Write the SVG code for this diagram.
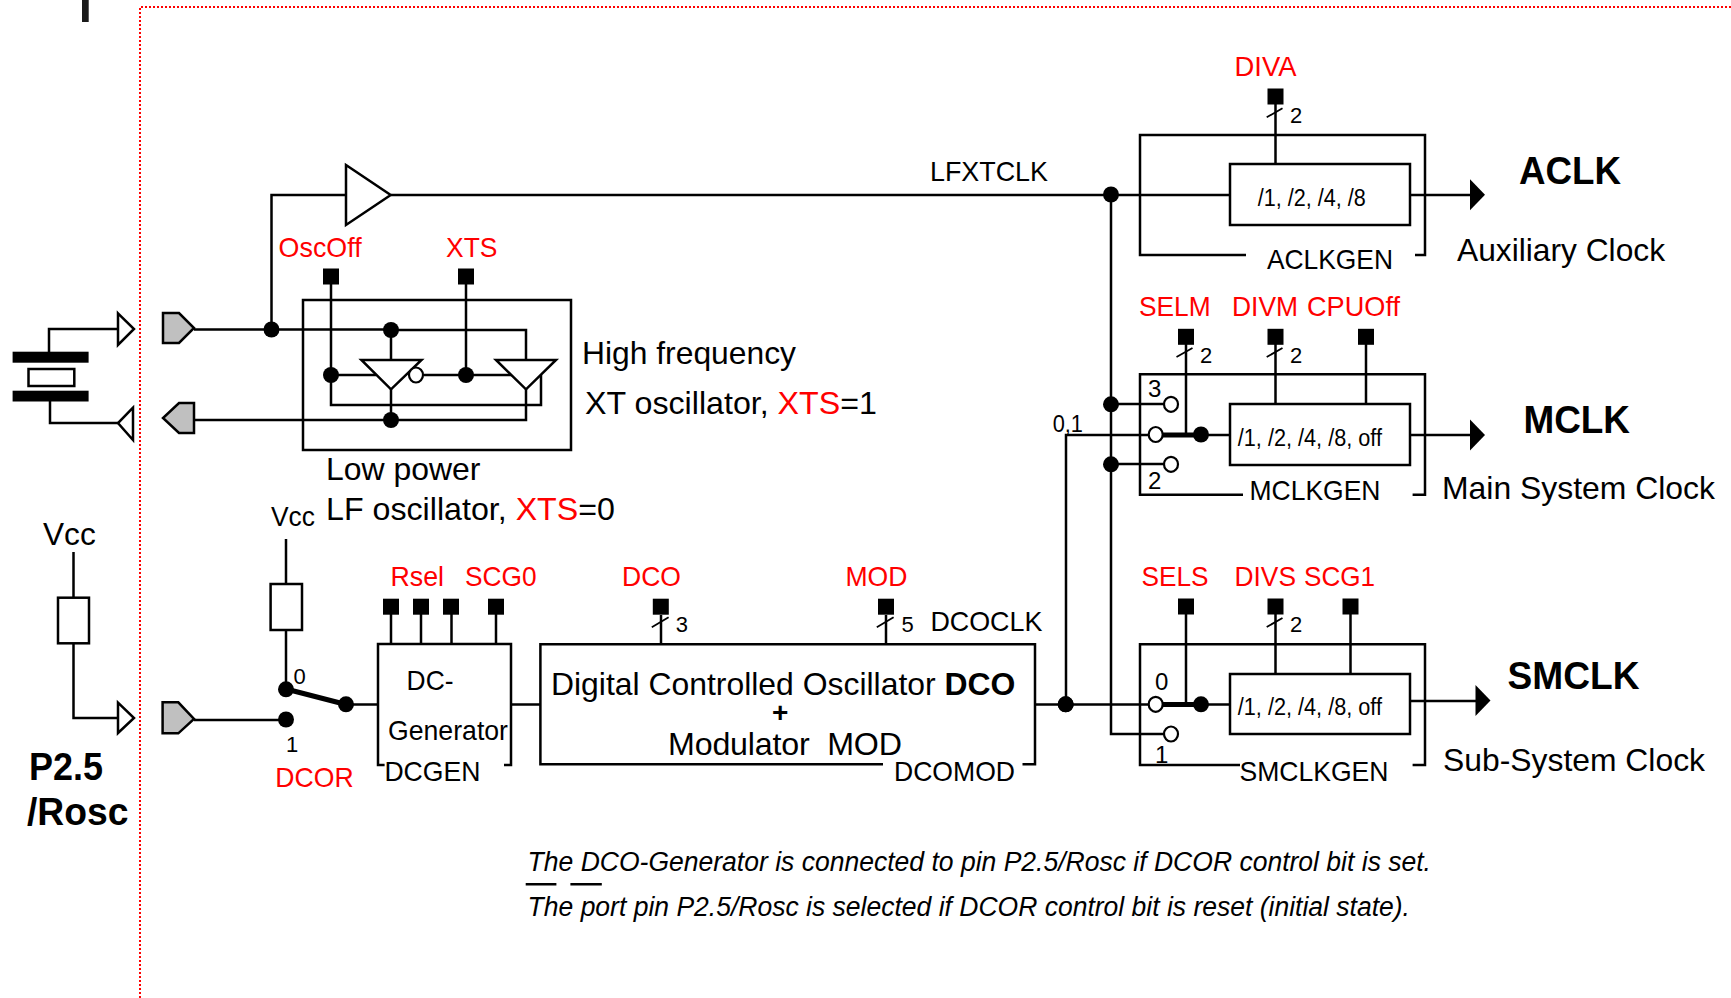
<svg xmlns="http://www.w3.org/2000/svg" width="1731" height="998" viewBox="0 0 1731 998">
<style>
text{font-family:"Liberation Sans",Arial,sans-serif;fill:#000;font-size:27.500px}
.r{fill:#f00}
.rt{fill:#f00}
.b{font-weight:bold;font-size:38px}
.l{font-size:32.200px}
.m{font-size:28px}
.s{font-size:22px}
.n{font-size:24px}
.d{font-size:23px}
.i{font-style:italic;font-size:27px}
.w{fill:none;stroke:#000;stroke-width:2.500}
.t{fill:none;stroke:#000;stroke-width:1.800}
.o{fill:none;stroke:#000;stroke-width:2.500}
.th{fill:none;stroke:#000;stroke-width:5}
.box{fill:#fff;stroke:#000;stroke-width:2.500}
.pad{fill:#c0c0c0;stroke:#000;stroke-width:2.500}
.pin{fill:#fff;stroke:#000;stroke-width:2.500}
.bub{fill:#fff;stroke:#000;stroke-width:2.200}
</style>
<defs>
<rect id="sq" x="-8" y="-8" width="16" height="16" fill="#000"/>
<ellipse id="dt" rx="8" ry="8" fill="#000"/>
<ellipse id="bb" rx="7" ry="7.500" class="bub"/>
<path id="ar" d="M0,-15.500L15,0L0,15.500Z" fill="#000"/>
</defs>
<rect width="1731" height="998" fill="#fff"/>
<g id="frame"><path d="M140,998V7H1731" fill="none" stroke="#f00" stroke-width="2" stroke-dasharray="2 2"/><rect x="82" y="0" width="6.700" height="22" fill="#1a1a1a"/></g>
<g id="connectors">
<path class="w" d="M194,329.500H271.500M271.500,329.500V195H346M391,195H1230M271.500,329.500H391M391,330H526V360M194,420H526V389M391,330V360M391,389V420"/>
<path class="w" d="M331,284V405H541V375M331,375H376M424,375H513M466,284V375"/>
<path class="w" d="M1111,195V734H1164M1111,404H1164M1111,464H1164M1066,704V435H1148M1035,704.500H1148M1201,435H1230M1201,704.500H1230M1410,195H1472M1410,435H1472M1410,701H1477"/>
<path class="w" d="M1275.500,104V164M1186,344V435M1275.500,344V404M1366,344V404M1186,614V704M1275.500,614V674M1350.500,614V674"/>
<path class="w" d="M391,614V644M421,614V644M451.500,614V644M496,614V644M661,615V644M886,615V644M511,704.500H540M346,704.500H378"/>
<path class="w" d="M73.500,552V598M73.500,643V718H118M286,539V584M286,630V689M194,720H286"/>
<path class="w" d="M49,352V329H118M50,401V423H118"/>
<path class="th" d="M1163,435H1201M1163,704.500H1201M286,689L346,704.500"/>
<path class="t" d="M1266.700,117.300L1282.500,108.300M1176.500,357L1192.500,348M1266.700,357L1282.500,348M1266.700,627L1282.500,618M651.800,627.300L668.600,617.300M876.800,627.300L893.600,617.300"/>
<path d="M525.700,884.300H556.400M570.400,884.300H601.800" class="o"/>
</g>
<g id="buffer"><path class="box" d="M346,165L390.700,195L346,225Z"/></g>
<g id="crystal"><rect x="12.600" y="351.700" width="76" height="11" fill="#000"/><rect x="28.500" y="369" width="45.800" height="17" class="box"/><rect x="12.600" y="390.700" width="76" height="10.800" fill="#000"/></g>
<g id="pin-xin"><path class="pin" d="M118,313.300L134,329L118,345Z"/></g>
<g id="pin-xout"><path class="pin" d="M133,407.700L118,423L133,440Z"/></g>
<g id="pad-xin"><path class="pad" d="M163,313H179L194,328L179,343H163Z"/></g>
<g id="pad-xout"><path class="pad" d="M194,403V433H179L163,418L179,403Z"/></g>
<g id="oscillator">
<path class="w" d="M303,300H571V450H303Z"/>
<path class="box" d="M361.400,360H421.500L391,389.300Z"/>
<path class="box" d="M496,360H556L526,389.300Z"/>
<use href="#bb" x="416" y="375"/>
<use href="#dt" x="331" y="375"/><use href="#dt" x="466" y="375"/><use href="#dt" x="391" y="330"/><use href="#dt" x="391" y="420"/><use href="#dt" x="271.500" y="329.500"/>
<use href="#sq" x="331" y="276.500"/><use href="#sq" x="466" y="276.500"/>
</g>
<g id="aclkgen">
<path class="w" d="M1246,255H1140V135H1425V255H1415"/>
<rect class="box" x="1230" y="164" width="180" height="61"/>
<use href="#sq" x="1275.500" y="96.500"/><use href="#dt" x="1111" y="194.500"/>
<use href="#ar" x="1470" y="194.700"/>
</g>
<g id="mclkgen">
<path class="w" d="M1243,494.700H1140V374.300H1425V494.700H1412.600"/>
<rect class="box" x="1230" y="404" width="180" height="61"/>
<use href="#sq" x="1186" y="336.800"/><use href="#sq" x="1275.500" y="336.800"/><use href="#sq" x="1366" y="336.800"/>
<use href="#dt" x="1111" y="404.300"/><use href="#dt" x="1111" y="464.300"/><use href="#dt" x="1201" y="434.500"/>
<use href="#bb" x="1171" y="404.300"/><use href="#bb" x="1171" y="464.300"/><use href="#bb" x="1155.700" y="434.500"/>
<use href="#ar" x="1470" y="435"/>
</g>
<g id="smclkgen">
<path class="w" d="M1240,765H1140V644.300H1425V765H1412.600"/>
<rect class="box" x="1230" y="674" width="180" height="60"/>
<use href="#sq" x="1186" y="606.500"/><use href="#sq" x="1275.500" y="606.500"/><use href="#sq" x="1350.500" y="606.500"/>
<use href="#dt" x="1065.700" y="704.300"/><use href="#dt" x="1201" y="704.300"/>
<use href="#bb" x="1155.700" y="704.300"/><use href="#bb" x="1171" y="734"/>
<use href="#ar" x="1475.500" y="700.500"/>
</g>
<g id="dcgen">
<path class="w" d="M384.600,765H378V644H511V765H504"/>
<use href="#sq" x="391" y="606.700"/><use href="#sq" x="421" y="606.700"/><use href="#sq" x="451" y="606.700"/><use href="#sq" x="496" y="606.700"/>
</g>
<g id="dcomod">
<path class="w" d="M883,764.300H540.400V644.300H1035V764.300H1022.500"/>
<use href="#sq" x="660.800" y="606.700"/><use href="#sq" x="886" y="606.700"/>
</g>
<g id="dcor-switch">
<use href="#dt" x="286" y="689.300"/><use href="#dt" x="286" y="719.500"/><use href="#dt" x="346" y="704.300"/><use href="#dt" x="1065.700" y="704.300"/>
<rect x="270.600" y="584" width="31.400" height="46" class="box"/>
</g>
<g id="ext-res"><rect x="58" y="597.700" width="31" height="45.600" class="box"/><path class="pin" d="M118,702.700L134,718L118,733Z"/></g>
<g id="pad-rosc"><path class="pad" d="M162.600,702.300H178.300L194,719L178.300,733.300H162.600Z"/></g>
<g id="labels">
<text x="278.600" y="257.200" class="rt" textLength="83" lengthAdjust="spacingAndGlyphs">OscOff</text>
<text x="446" y="257.200" class="rt" textLength="51.400" lengthAdjust="spacingAndGlyphs">XTS</text>
<text x="930" y="181" textLength="118" lengthAdjust="spacingAndGlyphs">LFXTCLK</text>
<text x="1234.500" y="76" class="rt" textLength="62" lengthAdjust="spacingAndGlyphs">DIVA</text>
<text x="1290" y="123" class="s">2</text>
<text x="1519" y="184" class="b" textLength="102" lengthAdjust="spacingAndGlyphs">ACLK</text>
<text x="1457" y="261" class="l" textLength="208" lengthAdjust="spacingAndGlyphs">Auxiliary Clock</text>
<text x="1267" y="269" textLength="126" lengthAdjust="spacingAndGlyphs">ACLKGEN</text>
<text x="1257.800" y="205.500" class="d" textLength="108" lengthAdjust="spacingAndGlyphs">/1, /2, /4, /8</text>
<text x="1139" y="316" class="rt" textLength="71.700" lengthAdjust="spacingAndGlyphs">SELM</text>
<text x="1232" y="316" class="rt" textLength="66" lengthAdjust="spacingAndGlyphs">DIVM</text>
<text x="1307" y="316" class="rt" textLength="93" lengthAdjust="spacingAndGlyphs">CPUOff</text>
<text x="1200" y="363" class="s">2</text>
<text x="1290" y="363" class="s">2</text>
<text x="1148" y="397" class="n">3</text>
<text x="1148" y="489" class="n">2</text>
<text x="1052.700" y="431.700" class="d" textLength="30.300" lengthAdjust="spacingAndGlyphs">0,1</text>
<text x="1237.800" y="445.500" class="d" textLength="144.200" lengthAdjust="spacingAndGlyphs">/1, /2, /4, /8, off</text>
<text x="1523.500" y="433" class="b" textLength="106.500" lengthAdjust="spacingAndGlyphs">MCLK</text>
<text x="1442" y="498.500" class="l" textLength="273" lengthAdjust="spacingAndGlyphs">Main System Clock</text>
<text x="1249.500" y="499.500" textLength="131" lengthAdjust="spacingAndGlyphs">MCLKGEN</text>
<text x="1141.500" y="586" class="rt" textLength="67" lengthAdjust="spacingAndGlyphs">SELS</text>
<text x="1234.500" y="586" class="rt" textLength="61.500" lengthAdjust="spacingAndGlyphs">DIVS</text>
<text x="1304" y="586" class="rt" textLength="71" lengthAdjust="spacingAndGlyphs">SCG1</text>
<text x="1290" y="632" class="s">2</text>
<text x="1155" y="689.500" class="n">0</text>
<text x="1155" y="763" class="n">1</text>
<text x="1237.800" y="715" class="d" textLength="144.200" lengthAdjust="spacingAndGlyphs">/1, /2, /4, /8, off</text>
<text x="1507.500" y="689" class="b" textLength="132" lengthAdjust="spacingAndGlyphs">SMCLK</text>
<text x="1443" y="770.500" class="l" textLength="262" lengthAdjust="spacingAndGlyphs">Sub-System Clock</text>
<text x="1239.500" y="781" textLength="149" lengthAdjust="spacingAndGlyphs">SMCLKGEN</text>
<text x="582" y="364" class="l" textLength="214" lengthAdjust="spacingAndGlyphs">High frequency</text>
<text x="585" y="414" class="l">XT oscillator, <tspan class="r">XTS</tspan>=1</text>
<text x="326" y="480" class="l" textLength="154.500" lengthAdjust="spacingAndGlyphs">Low power</text>
<text x="326" y="520" class="l">LF oscillator, <tspan class="r">XTS</tspan>=0</text>
<text x="43" y="545" class="l" textLength="52.700" lengthAdjust="spacingAndGlyphs">Vcc</text>
<text x="271" y="526" textLength="44" lengthAdjust="spacingAndGlyphs">Vcc</text>
<text x="293.500" y="684" class="s">0</text>
<text x="286" y="751.700" class="s">1</text>
<text x="275.300" y="786.500" class="rt" textLength="78.300" lengthAdjust="spacingAndGlyphs">DCOR</text>
<text x="29" y="779.500" class="b" textLength="74" lengthAdjust="spacingAndGlyphs">P2.5</text>
<text x="27" y="825" class="b" textLength="101.500" lengthAdjust="spacingAndGlyphs">/Rosc</text>
<text x="390.500" y="586" class="rt" textLength="53.500" lengthAdjust="spacingAndGlyphs">Rsel</text>
<text x="465" y="586" class="rt" textLength="71.500" lengthAdjust="spacingAndGlyphs">SCG0</text>
<text x="406.600" y="690" textLength="46.900" lengthAdjust="spacingAndGlyphs">DC-</text>
<text x="388" y="739.500" textLength="120" lengthAdjust="spacingAndGlyphs">Generator</text>
<text x="384.400" y="781" textLength="96" lengthAdjust="spacingAndGlyphs">DCGEN</text>
<text x="622" y="586" class="rt" textLength="59" lengthAdjust="spacingAndGlyphs">DCO</text>
<text x="845.400" y="586" class="rt" textLength="62" lengthAdjust="spacingAndGlyphs">MOD</text>
<text x="675.700" y="632" class="s">3</text>
<text x="901.400" y="632" class="s">5</text>
<text x="930.400" y="631" textLength="112" lengthAdjust="spacingAndGlyphs">DCOCLK</text>
<text x="551" y="695" class="l" style="font-size:31.900px">Digital Controlled Oscillator <tspan font-weight="bold">DCO</tspan></text>
<text x="772" y="722" font-weight="bold" class="m">+</text>
<text x="668" y="755" class="l" textLength="234" xml:space="preserve">Modulator  MOD</text>
<text x="894" y="780.500" textLength="121" lengthAdjust="spacingAndGlyphs">DCOMOD</text>
<text x="527.600" y="871" class="i" textLength="903.400" lengthAdjust="spacingAndGlyphs">The DCO-Generator is connected to pin P2.5/Rosc if DCOR control bit is set.</text>
<text x="527.600" y="916" class="i" textLength="882.400" lengthAdjust="spacingAndGlyphs">The port pin P2.5/Rosc is selected if DCOR control bit is reset (initial state).</text>
</g>
</svg>
